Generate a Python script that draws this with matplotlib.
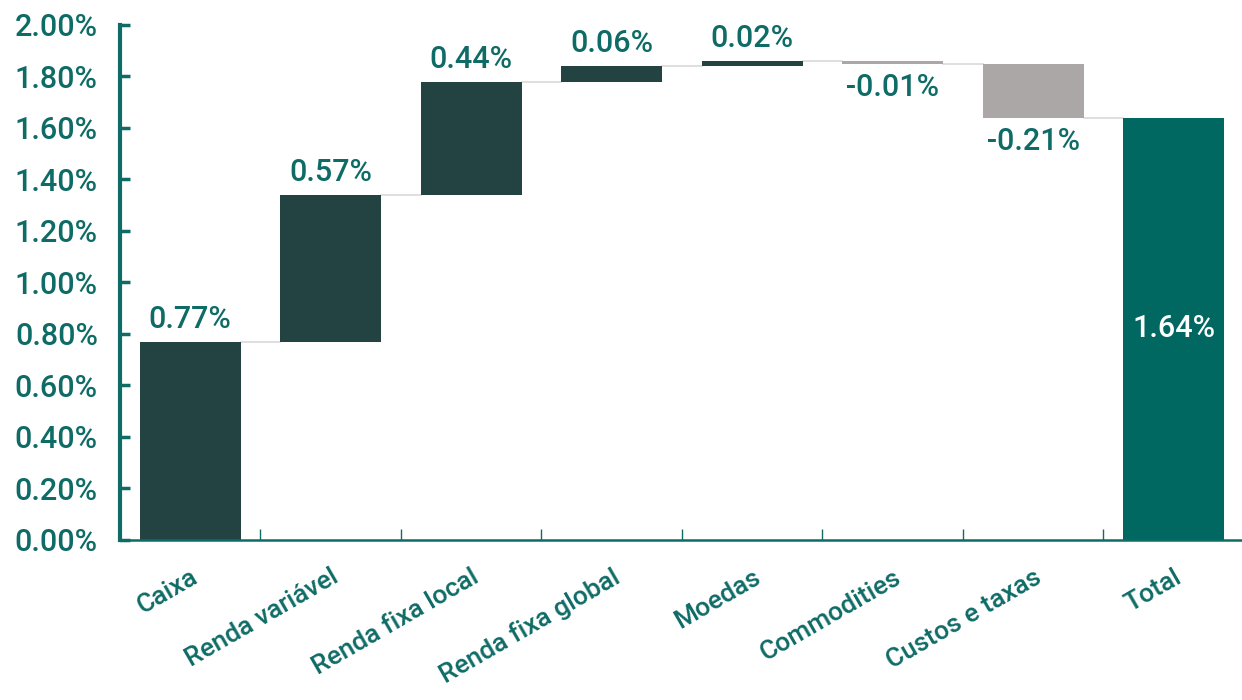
import numpy as np
import matplotlib
matplotlib.use("Agg")
import matplotlib.pyplot as plt
from matplotlib.ticker import FuncFormatter, MultipleLocator

categories = ["Caixa", "Renda variável", "Renda fixa local", "Renda fixa global",
              "Moedas", "Commodities", "Custos e taxas", "Total"]
contrib = [0.77, 0.57, 0.44, 0.06, 0.02, -0.01, -0.21]
total = 1.64

teal_text = "#0E6B66"
dark = "#224341"
total_col = "#006861"
neg_col = "#ABA7A6"
conn_col = "#D9D9D9"

plt.rcParams["font.family"] = ["Roboto", "DejaVu Sans"]
plt.rcParams["font.weight"] = "medium"

fig = plt.figure(figsize=(12.42, 7), dpi=100)
ax = fig.add_axes([0.0966, 0.2286, 0.905, 0.7357])

width = 0.72
x = np.arange(len(categories))
cum = np.concatenate([[0], np.cumsum(contrib)])
bottoms = []
heights = []
colors = []
for i, v in enumerate(contrib):
    start = cum[i]
    bottoms.append(min(start, start + v))
    heights.append(abs(v))
    colors.append(dark if v >= 0 else neg_col)
bottoms.append(0)
heights.append(total)
colors.append(total_col)

ax.bar(x, heights, bottom=bottoms, width=width, color=colors, zorder=2)

# connector lines
levels = list(cum[1:])
for i in range(len(categories) - 1):
    ax.plot([x[i] + width / 2, x[i + 1] - width / 2], [levels[i], levels[i]],
            color=conn_col, lw=1.2, zorder=1)

# labels
for i, v in enumerate(contrib):
    if v >= 0:
        ax.text(x[i], cum[i + 1] + 0.03, f"{v:.2f}%", ha="center", va="bottom",
                fontsize=22, color=teal_text)
    else:
        ax.text(x[i], cum[i + 1] - 0.035, f"{v:.2f}%", ha="center", va="top",
                fontsize=22, color=teal_text)
ax.text(x[-1], total / 2, f"{total:.2f}%", ha="center", va="center",
        fontsize=22, color="white")

ax.set_xlim(-0.5, len(categories) - 0.5)
ax.set_ylim(0, 2.0)
ax.yaxis.set_major_locator(MultipleLocator(0.2))
ax.yaxis.set_major_formatter(FuncFormatter(lambda v, p: f"{v:.2f}%"))

ax.set_xticks(x[:-1] + 0.5)
ax.set_xticklabels([])
ax.set_xticks(x, minor=True)
ax.set_xticklabels(categories, minor=True, rotation=30, ha="right",
                   rotation_mode="anchor", fontsize=19, color=teal_text)
ax.tick_params(axis="x", which="minor", length=0, pad=18)
ax.tick_params(axis="x", which="major", direction="in", length=8, width=1,
               color=teal_text)
ax.tick_params(axis="y", direction="in", length=7, width=2.5, color=teal_text,
               labelsize=22, labelcolor=teal_text, pad=16)

for s in ["top", "right"]:
    ax.spines[s].set_visible(False)
ax.spines["left"].set_color(teal_text)
ax.spines["left"].set_linewidth(3)
ax.spines["bottom"].set_color(teal_text)
ax.spines["bottom"].set_linewidth(1.8)

fig.savefig("out.png", dpi=100)
